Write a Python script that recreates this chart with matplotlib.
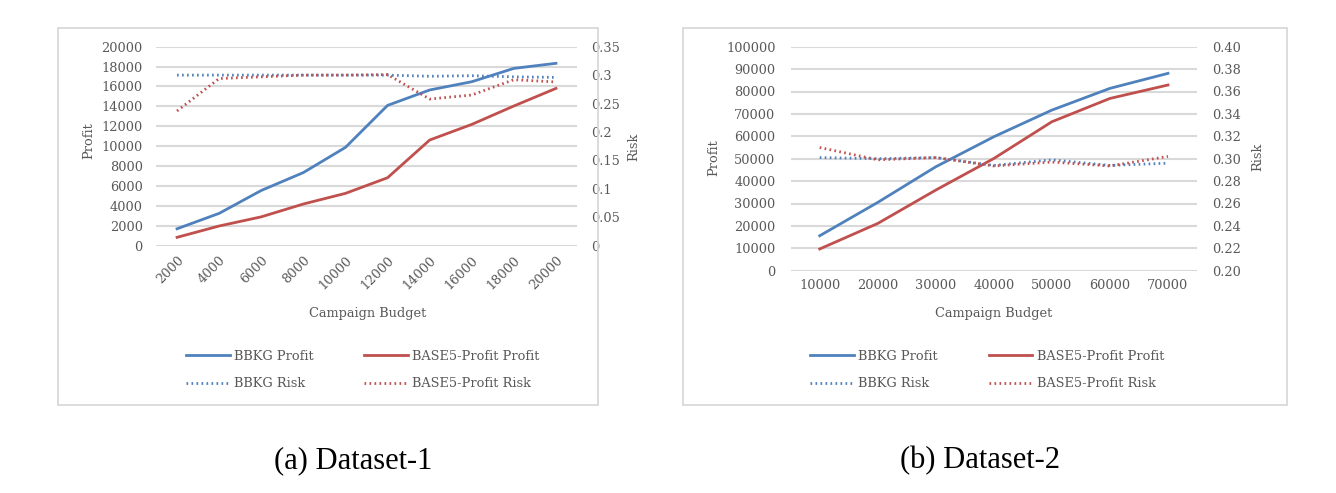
import matplotlib
matplotlib.use("Agg")
import matplotlib.pyplot as plt
from matplotlib.patches import Rectangle
from matplotlib.ticker import FuncFormatter, FixedLocator

# ---------------- data ----------------
budget1 = ["2000", "4000", "6000", "8000", "10000", "12000", "14000", "16000", "18000", "20000"]
bbkg_profit1 = [1700, 3250, 5550, 7350, 9880, 14100, 15650, 16480, 17820, 18330]
base5_profit1 = [840, 1980, 2900, 4190, 5260, 6830, 10620, 12190, 14040, 15810]
bbkg_risk1 = [0.300, 0.300, 0.300, 0.300, 0.300, 0.300, 0.298, 0.299, 0.297, 0.296]
base5_risk1 = [0.237, 0.294, 0.297, 0.300, 0.300, 0.301, 0.258, 0.265, 0.292, 0.288]

budget2 = ["10000", "20000", "30000", "40000", "50000", "60000", "70000"]
bbkg_profit2 = [15600, 30500, 46400, 59800, 71700, 81400, 88100]
base5_profit2 = [9700, 21100, 36000, 50100, 66500, 76900, 82900]
bbkg_risk2 = [0.301, 0.300, 0.301, 0.294, 0.299, 0.294, 0.296]
base5_risk2 = [0.310, 0.299, 0.301, 0.2935, 0.297, 0.2935, 0.302]

profit_ticks1 = [0, 2000, 4000, 6000, 8000, 10000, 12000, 14000, 16000, 18000, 20000]
risk_ticks1 = [0, 0.05, 0.1, 0.15, 0.2, 0.25, 0.3, 0.35]
profit_ticks2 = [0, 10000, 20000, 30000, 40000, 50000, 60000, 70000, 80000, 90000, 100000]
risk_ticks2 = [0.20, 0.22, 0.24, 0.26, 0.28, 0.30, 0.32, 0.34, 0.36, 0.38, 0.40]

# ---------------- style ----------------
W, H = 1336, 493
BLUE = "#4F81BD"
RED = "#C0504D"
GRID = "#D9D9D9"
TXT = "#595959"
FONT = "DejaVu Serif"
FS = 9.3

fig = plt.figure(figsize=(W / 100, H / 100), dpi=100)


def fx(px):
    return px / W


def fy(py):
    return 1 - py / H


def panel(box, axbox, cats, bp, b5p, br, b5r, pticks, rticks, rfmt, rot,
          legx, colsp, xlab_x, prof_xy, risk_xy, lpad, rpad):
    x0, y0, x1, y1 = box
    fig.patches.append(Rectangle((fx(x0), fy(y1)), fx(x1 - x0), (y1 - y0) / H,
                                 transform=fig.transFigure, fill=False,
                                 edgecolor="#D9D9D9", linewidth=1.3))
    ax0, ay0, ax1, ay1 = axbox
    ax = fig.add_axes([fx(ax0), fy(ay1), fx(ax1 - ax0), (ay1 - ay0) / H])
    ax2 = ax.twinx()
    x = list(range(len(cats)))
    l1, = ax.plot(x, bp, color=BLUE, lw=2.0, label="BBKG Profit", zorder=3)
    l2, = ax.plot(x, b5p, color=RED, lw=2.0, label="BASE5-Profit Profit", zorder=3)
    l3, = ax2.plot(x, br, color=BLUE, lw=2.0, ls=(0, (0.6, 1.2)), label="BBKG Risk")
    l4, = ax2.plot(x, b5r, color=RED, lw=2.0, ls=(0, (0.6, 1.2)), label="BASE5-Profit Risk")
    ax.set_xlim(-0.5, len(cats) - 0.5)
    ax.set_ylim(pticks[0], pticks[-1])
    ax2.set_ylim(rticks[0], rticks[-1])
    ax.yaxis.set_major_locator(FixedLocator(pticks))
    ax2.yaxis.set_major_locator(FixedLocator(rticks))
    ax2.yaxis.set_major_formatter(FuncFormatter(rfmt))
    ax.yaxis.set_major_formatter(FuncFormatter(lambda v, p: f"{int(round(v))}"))
    ax.set_xticks(x)
    if rot:
        ax.set_xticklabels(cats, rotation=45, ha="right", rotation_mode="anchor")
    else:
        ax.set_xticklabels(cats)
    ax.grid(axis="y", color=GRID, lw=1.5)
    ax.set_axisbelow(True)
    for a in (ax, ax2):
        for s in a.spines.values():
            s.set_visible(False)
        a.tick_params(length=0, labelsize=FS, labelcolor=TXT, pad=6)
        for t in a.get_xticklabels() + a.get_yticklabels():
            t.set_fontfamily(FONT)
    ax.tick_params(axis="y", pad=lpad)
    ax2.tick_params(axis="y", pad=rpad)
    ax.set_ylabel("Profit", fontsize=FS, color=TXT, family=FONT)
    ax.yaxis.set_label_coords(fx(prof_xy[0]), fy(prof_xy[1]), transform=fig.transFigure)
    ax2.set_ylabel("Risk", fontsize=FS, color=TXT, family=FONT)
    ax2.yaxis.set_label_coords(fx(risk_xy[0]), fy(risk_xy[1]), transform=fig.transFigure)
    ax.yaxis.label.set_va("center")
    ax2.yaxis.label.set_va("center")
    ax2.yaxis.label.set_rotation(90)
    fig.text(fx(xlab_x), fy(314), "Campaign Budget", ha="center", va="center",
             fontsize=FS, color=TXT, family=FONT)
    leg = fig.legend([l1, l3, l2, l4], [h.get_label() for h in (l1, l3, l2, l4)],
                     ncol=2, loc="upper left", bbox_to_anchor=(fx(legx), fy(350)),
                     frameon=False, handlelength=3.4, handletextpad=0.35,
                     columnspacing=colsp, labelspacing=1.1, borderpad=0, borderaxespad=0,
                     prop={"family": FONT, "size": FS})
    for t in leg.get_texts():
        t.set_color(TXT)
    return ax, ax2


def fmt1(v, p):
    return f"{v:.2f}".rstrip("0").rstrip(".")


def fmt2(v, p):
    return f"{v:.2f}"


panel((58, 28, 598, 405), (156, 46.7, 577, 245.7), budget1, bbkg_profit1, base5_profit1,
      bbkg_risk1, base5_risk1, profit_ticks1, risk_ticks1, fmt1, True,
      186, 3.85, 368, (89, 141), (634, 147), 9.5, 10)
panel((683, 28, 1287, 405), (790.7, 46.7, 1197, 270.7), budget2, bbkg_profit2, base5_profit2,
      bbkg_risk2, base5_risk2, profit_ticks2, risk_ticks2, fmt2, False,
      810, 3.9, 994, (714, 158), (1258, 157), 11, 11)

fig.text(fx(353), fy(461), "(a) Dataset-1", ha="center", va="center",
         fontsize=22, family="Liberation Serif", color="black")
fig.text(fx(980), fy(461), "(b) Dataset-2", ha="center", va="center",
         fontsize=22, family="Liberation Serif", color="black")

fig.savefig("out.png", dpi=100)
